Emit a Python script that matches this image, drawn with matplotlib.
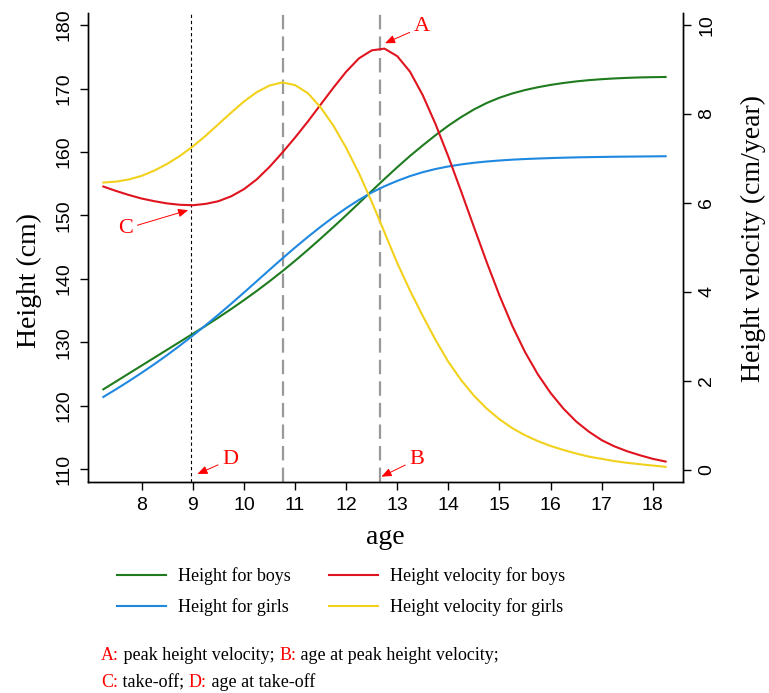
import numpy as np
import matplotlib.pyplot as plt

age = [7.25, 7.5, 7.75, 8.0, 8.25, 8.5, 8.75, 9.0, 9.25, 9.5, 9.75,
       10.0, 10.25, 10.5, 10.75, 11.0, 11.25, 11.5, 11.75, 12.0, 12.25,
       12.5, 12.75, 13.0, 13.25, 13.5, 13.75, 14.0, 14.25, 14.5, 14.75,
       15.0, 15.25, 15.5, 15.75, 16.0, 16.25, 16.5, 16.75, 17.0, 17.25,
       17.5, 17.75, 18.0, 18.25]

# height (cm)
height_boys = [122.6, 123.85, 125.1, 126.35, 127.6, 128.85, 130.1, 131.35, 132.6, 133.9, 135.25,
               136.65, 138.1, 139.62, 141.2, 142.85, 144.57, 146.35, 148.17, 150.03, 151.93,
               153.85, 155.75, 157.6, 159.38, 161.05, 162.65, 164.15, 165.5, 166.7, 167.72,
               168.55, 169.22, 169.76, 170.2, 170.57, 170.87, 171.12, 171.32, 171.47, 171.59,
               171.68, 171.75, 171.79, 171.82]
height_girls = [121.4, 122.62, 123.89, 125.21, 126.58, 128.01, 129.51, 131.07, 132.69, 134.36, 136.08,
                137.84, 139.63, 141.43, 143.21, 144.94, 146.61, 148.21, 149.73, 151.15, 152.45,
                153.62, 154.6, 155.45, 156.2, 156.82, 157.32, 157.72, 158.04, 158.3, 158.5,
                158.66, 158.79, 158.89, 158.97, 159.04, 159.1, 159.15, 159.19, 159.22, 159.25,
                159.27, 159.29, 159.31, 159.33]

# height velocity (cm/year)
vel_boys = [6.37, 6.27, 6.18, 6.10, 6.04, 5.99, 5.96, 5.95, 5.98, 6.04, 6.15,
            6.31, 6.53, 6.81, 7.13, 7.47, 7.83, 8.21, 8.59, 8.95, 9.25,
            9.43, 9.47, 9.30, 8.95, 8.42, 7.77, 7.04, 6.26, 5.46, 4.67,
            3.92, 3.24, 2.65, 2.15, 1.73, 1.38, 1.09, 0.86, 0.67, 0.53,
            0.42, 0.33, 0.25, 0.19]
vel_girls = [6.46, 6.48, 6.53, 6.61, 6.73, 6.88, 7.06, 7.27, 7.51, 7.77, 8.03,
             8.28, 8.49, 8.64, 8.71, 8.65, 8.47, 8.15, 7.74, 7.24, 6.67,
             6.03, 5.34, 4.65, 4.03, 3.46, 2.92, 2.43, 2.02, 1.67, 1.38,
             1.14, 0.94, 0.78, 0.65, 0.54, 0.45, 0.37, 0.30, 0.25, 0.20,
             0.16, 0.13, 0.10, 0.07]

takeoff_age = 8.96
phv_age_girls = 10.77
phv_age_boys = 12.67

labels = ["Height for boys", "Height for girls",
          "Height velocity for boys", "Height velocity for girls"]
colors = ["#1e7b1e", "#1f88e0", "#e0141e", "#f2d11c"]

# letter, text position (age, velocity), arrow tip (age, velocity), relpos
marks = [("A", (13.48, 9.96), (12.76, 9.59), (0.0, 0.3)),
         ("B", (13.38, 0.24), (12.69, -0.15), (0.0, 0.3)),
         ("C", (7.69, 5.43), (8.91, 5.84), (1.0, 0.6)),
         ("D", (9.73, 0.24), (9.09, -0.09), (0.0, 0.3))]

caption = [[("A:", "red"), (" peak height velocity; ", "black"), ("B:", "red"),
            (" age at peak height velocity;", "black")],
           [("C:", "red"), (" take-off; ", "black"), ("D:", "red"),
            (" age at take-off", "black")]]

serif = "Liberation Serif"
plt.rcParams["font.family"] = "Liberation Sans"

fig = plt.figure(figsize=(7.69, 6.93), dpi=100)
ax = fig.add_axes([88 / 769, 1 - 482 / 693, 595 / 769, 469 / 693])
ax2 = ax.twinx()

ax.axvline(takeoff_age, color="black", lw=0.8, linestyle=(0, (3, 2.5)))
for a in (phv_age_girls, phv_age_boys):
    ax.axvline(a, color="#999999", lw=1.6, linestyle=(0, (6.5, 3.2)))

l1, = ax.plot(age, height_boys, color=colors[0], lw=1.5)
l2, = ax.plot(age, height_girls, color=colors[1], lw=1.5)
l3, = ax2.plot(age, vel_boys, color=colors[2], lw=1.5)
l4, = ax2.plot(age, vel_girls, color=colors[3], lw=1.5)

ax.set_xlim(6.95, 18.59)
ax.set_ylim(108.0, 181.9)
ax2.set_ylim(-0.27, 10.27)
ax.set_xticks(range(8, 19))
ax.set_yticks(range(110, 181, 10))
ax2.set_yticks(range(0, 11, 2))

for a in (ax, ax2):
    a.spines["top"].set_visible(False)
    for s in a.spines.values():
        s.set_linewidth(1.0)
ax.tick_params(axis="both", direction="out", length=6, width=1.0, labelsize=14, pad=5)
ax.tick_params(axis="y", labelrotation=90, pad=5)
ax2.tick_params(axis="y", direction="out", length=6, width=1.0, labelsize=14,
                labelrotation=90, pad=5)
for t in ax.get_yticklabels() + ax2.get_yticklabels():
    t.set_va("center")

ax.set_xlabel("age", family=serif, fontsize=20, labelpad=8)
ax.set_ylabel("Height (cm)", family=serif, fontsize=20)
ax.yaxis.set_label_coords(-0.078, 0.43)
ax2.set_ylabel("Height velocity (cm/year)", family=serif, fontsize=20, rotation=90)
ax2.yaxis.set_label_coords(1.098, 0.52)

for letter, txt, tip, rp in marks:
    ax2.annotate(letter, xy=tip, xytext=txt, ha="center", va="center",
                 color="red", fontsize=16, family=serif,
                 arrowprops=dict(arrowstyle="-|>,head_length=0.6,head_width=0.25",
                                 color="red", lw=0.7, shrinkA=1, shrinkB=0,
                                 mutation_scale=10, relpos=rp))

fig.legend([l1, l2, l3, l4], labels, ncol=2, loc="upper left",
           bbox_to_anchor=(117 / 769, 1 - 567 / 693), frameon=False,
           prop=dict(family=serif, size=13), handlelength=2.7, handletextpad=0.7,
           columnspacing=2.1, labelspacing=0.75, borderpad=0, borderaxespad=0)

# caption lines, each piece chained to the end of the one before
ys = [1 - 660 / 693, 1 - 687 / 693]
for parts, y in zip(caption, ys):
    prev = fig.text(101 / 769, y, parts[0][0], color=parts[0][1],
                    family=serif, fontsize=13, va="baseline")
    for s, c in parts[1:]:
        prev = fig.add_artist(plt.Annotation(s, xy=(1, 0), xycoords=prev,
                                             va="bottom", color=c, family=serif,
                                             fontsize=13))

fig.savefig("out.png", dpi=100)
